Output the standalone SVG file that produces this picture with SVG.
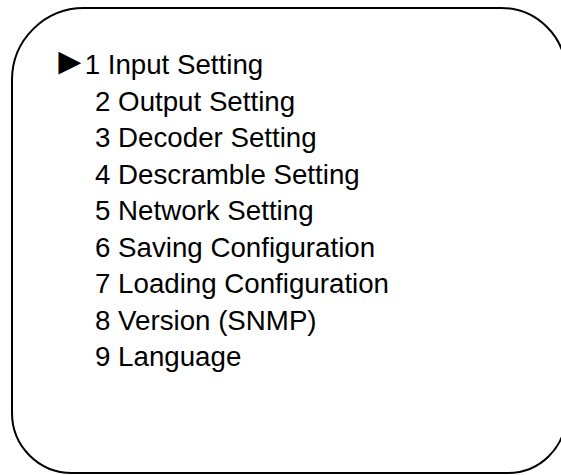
<svg xmlns="http://www.w3.org/2000/svg" width="561" height="475" viewBox="0 0 561 475">
<style>
.t{font-family:"Liberation Sans",Arial,sans-serif;font-size:27.7px;fill:#000}
.mk{font-size:38px}
.box{fill:#fff;stroke:#000;stroke-width:2}
</style>
<rect width="561" height="475" fill="#fff"/>
<g id="menu">
<path class="box" d="M84,8 H501 A65,65 0 0 1 566,73 V415 A58,58 0 0 1 508,473 H72 A60,60 0 0 1 12,413 V80 A72,72 0 0 1 84,8 Z"/>
<text class="t" x="51" y="74"><tspan class="mk">►</tspan><tspan dx="-4">1 Input Setting</tspan></text>
<text class="t" x="95" y="110.5">2 Output Setting</text>
<text class="t" x="95" y="147">3 Decoder Setting</text>
<text class="t" x="95" y="183.5">4 Descramble Setting</text>
<text class="t" x="95" y="220">5 Network Setting</text>
<text class="t" x="95" y="256.5">6 Saving Configuration</text>
<text class="t" x="95" y="293">7 Loading Configuration</text>
<text class="t" x="95" y="329.5">8 Version (SNMP)</text>
<text class="t" x="95" y="366">9 Language</text>
</g>
</svg>
